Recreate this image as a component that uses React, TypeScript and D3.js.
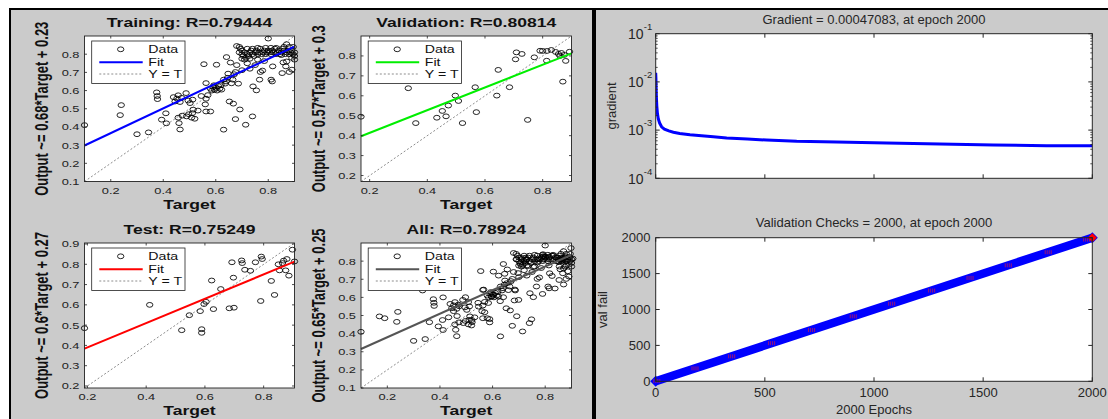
import React from 'react';
import * as d3 from 'd3';

// ---------- regression data: [target, output] ----------
const trainingPoints: [number, number][] = [
  [0.1, 0.41], [0.236, 0.465], [0.24, 0.52], [0.3, 0.36], [0.344, 0.37], [0.375, 0.59], [0.377, 0.57], [0.378, 0.553],
  [0.394, 0.44], [0.41, 0.475], [0.412, 0.42], [0.439, 0.564], [0.445, 0.54], [0.452, 0.556], [0.457, 0.574], [0.464, 0.537],
  [0.47, 0.56], [0.487, 0.586], [0.495, 0.545], [0.502, 0.531], [0.512, 0.55], [0.457, 0.451], [0.46, 0.421], [0.464, 0.386],
  [0.472, 0.462], [0.489, 0.458], [0.497, 0.47], [0.508, 0.451], [0.511, 0.476], [0.514, 0.495], [0.52, 0.445], [0.532, 0.49],
  [0.555, 0.745], [0.563, 0.641], [0.563, 0.555], [0.56, 0.524], [0.563, 0.485], [0.58, 0.485], [0.57, 0.575], [0.545, 0.57],
  [0.58, 0.61], [0.585, 0.6], [0.59, 0.62], [0.595, 0.605], [0.6, 0.615], [0.605, 0.6], [0.61, 0.625], [0.615, 0.61],
  [0.62, 0.63], [0.622, 0.605], [0.593, 0.629], [0.603, 0.742], [0.636, 0.638], [0.63, 0.66], [0.64, 0.65], [0.645, 0.67],
  [0.647, 0.693], [0.656, 0.754], [0.641, 0.784], [0.675, 0.702], [0.66, 0.64], [0.665, 0.66], [0.67, 0.69], [0.686, 0.638],
  [0.652, 0.54], [0.667, 0.528], [0.692, 0.496], [0.63, 0.385], [0.675, 0.443], [0.714, 0.412], [0.74, 0.458], [0.742, 0.623],
  [0.755, 0.601], [0.767, 0.66], [0.77, 0.702], [0.778, 0.71], [0.811, 0.66], [0.815, 0.65], [0.8, 0.886], [0.853, 0.696],
  [0.88, 0.702], [0.89, 0.715], [0.867, 0.733], [0.857, 0.755], [0.817, 0.733], [0.785, 0.762], [0.87, 0.76], [0.68, 0.74],
  [0.7, 0.712], [0.73, 0.72], [0.72, 0.75], [0.75, 0.74], [0.76, 0.77],
  [0.68, 0.845], [0.69, 0.84], [0.695, 0.83], [0.7, 0.82], [0.7, 0.8], [0.705, 0.79], [0.71, 0.81], [0.715, 0.78],
  [0.72, 0.83], [0.72, 0.8], [0.725, 0.79], [0.73, 0.81], [0.735, 0.82], [0.74, 0.8], [0.745, 0.79], [0.75, 0.81],
  [0.755, 0.82], [0.76, 0.8], [0.765, 0.81], [0.77, 0.83], [0.775, 0.8], [0.78, 0.81], [0.785, 0.82], [0.79, 0.8],
  [0.795, 0.81], [0.8, 0.82], [0.805, 0.81], [0.81, 0.8], [0.815, 0.82], [0.82, 0.81], [0.825, 0.83], [0.83, 0.8],
  [0.835, 0.81], [0.84, 0.82], [0.845, 0.8], [0.85, 0.81], [0.855, 0.83], [0.86, 0.82], [0.865, 0.8], [0.87, 0.81],
  [0.875, 0.82], [0.88, 0.8], [0.885, 0.81], [0.89, 0.82], [0.895, 0.8], [0.9, 0.81], [0.9, 0.79], [0.88, 0.84],
  [0.87, 0.855], [0.86, 0.84], [0.85, 0.795], [0.83, 0.835], [0.81, 0.835], [0.79, 0.835], [0.76, 0.835], [0.74, 0.83],
  [0.73, 0.775], [0.71, 0.77], [0.69, 0.81], [0.7, 0.775], [0.89, 0.78], [0.9, 0.77], [0.895, 0.84],
];

const validationPoints: [number, number][] = [
  [0.17, 0.495], [0.334, 0.638], [0.36, 0.463], [0.433, 0.49], [0.465, 0.497], [0.452, 0.524], [0.473, 0.551], [0.497, 0.601],
  [0.508, 0.574], [0.522, 0.463], [0.566, 0.643], [0.57, 0.518], [0.646, 0.73], [0.641, 0.601], [0.685, 0.643], [0.706, 0.783],
  [0.709, 0.818], [0.728, 0.81], [0.748, 0.479], [0.771, 0.793], [0.791, 0.826], [0.814, 0.776], [0.815, 0.825], [0.83, 0.83],
  [0.845, 0.82], [0.855, 0.81], [0.865, 0.815], [0.875, 0.805], [0.893, 0.821], [0.87, 0.671], [0.88, 0.775], [0.8, 0.825],
  [0.86, 0.8],
];

const testPoints: [number, number][] = [
  [0.19, 0.485], [0.412, 0.6], [0.521, 0.475], [0.547, 0.549], [0.584, 0.569], [0.589, 0.48], [0.589, 0.462], [0.597, 0.604],
  [0.604, 0.615], [0.629, 0.579], [0.623, 0.72], [0.654, 0.678], [0.683, 0.583], [0.699, 0.586], [0.692, 0.81], [0.697, 0.734],
  [0.725, 0.819], [0.727, 0.806], [0.736, 0.773], [0.755, 0.768], [0.772, 0.81], [0.792, 0.838], [0.795, 0.826], [0.79, 0.619],
  [0.826, 0.718], [0.837, 0.649], [0.854, 0.77], [0.864, 0.806], [0.868, 0.818], [0.875, 0.77], [0.879, 0.826], [0.886, 0.744],
  [0.898, 0.872], [0.905, 0.814], [0.85, 0.8],
];

const allPoints: [number, number][] = [...trainingPoints, ...validationPoints, ...testPoints];

const regressionTitles = ['Training: R=0.79444', 'Validation: R=0.80814', 'Test: R=0.75249', 'All: R=0.78924'];
const fitLabels = [
  'Output ~= 0.68*Target + 0.23',
  'Output ~= 0.57*Target + 0.3',
  'Output ~= 0.6*Target + 0.27',
  'Output ~= 0.65*Target + 0.25',
];
const fitSlopes = [0.68, 0.57, 0.6, 0.65];
const fitIntercepts = [0.23, 0.3, 0.27, 0.25];
const axisLimits: [number, number][] = [[0.1, 0.9], [0.17, 0.9], [0.19, 0.905], [0.1, 0.9]];
const targetTicks = [0.2, 0.4, 0.6, 0.8];
const outputTicks = [
  [0.1, 0.2, 0.3, 0.4, 0.5, 0.6, 0.7, 0.8],
  [0.2, 0.3, 0.4, 0.5, 0.6, 0.7, 0.8],
  [0.2, 0.3, 0.4, 0.5, 0.6, 0.7, 0.8, 0.9],
  [0.1, 0.2, 0.3, 0.4, 0.5, 0.6, 0.7, 0.8],
];
const legendLabels = ['Data', 'Fit', 'Y = T'];

// ---------- training state ----------
const gradEpochs = [0, 1, 2, 3, 5, 8, 12, 18, 27, 40, 60, 81, 110, 157, 210, 264, 325, 420, 508, 646, 829, 1058, 1302, 1547, 1791, 2000];
const gradValues = [0.0155, 0.012, 0.0075, 0.005, 0.0032, 0.0022, 0.0017, 0.0014, 0.00117, 0.00105, 0.00096, 0.0009, 0.00085,
  0.0008, 0.00076, 0.00073, 0.000685, 0.00065, 0.000623, 0.000585, 0.000566, 0.00054, 0.000515, 0.000491, 0.000475, 0.00047083];
const gradTicks = [1e-4, 1e-3, 1e-2, 1e-1];
const gradTickExps = ['-4', '-3', '-2', '-1'];
const valFailEpochs = [0, 2000];
const valFailValues = [0, 2000];
const valFailMarkEpochs = [5, 180, 348, 531, 714, 905, 1081, 1264, 1440, 1615, 1798, 1974];
const epochTicks = [0, 500, 1000, 1500, 2000];
const valFailTicks = [0, 500, 1000, 1500, 2000];
const gradTitle = 'Gradient = 0.00047083, at epoch 2000';
const valTitle = 'Validation Checks = 2000, at epoch 2000';

// ---------- layout ----------
const W = 1108;
const H = 419;
const FONT = "'Liberation Sans', Arial, Helvetica, sans-serif";
const SX = 1.35; // horizontal stretch of the regression panel
const BG = '#cbcbcb';
const regBoxes = [
  [84.5, 36, 294.5, 181.5],
  [361, 36, 571.5, 181.5],
  [84.5, 243, 294.5, 388],
  [361, 243, 571.5, 388],
];
const fitColors = ['#0000ff', '#00ee00', '#ff0000', '#555555'];
const gradBox = [655.7, 33.7, 1092.3, 178.3];
const valBox = [655.7, 237.7, 1092.3, 381.3];

const st = (x: number, y: number, rot = false) =>
  `translate(${x},${y}) scale(${SX},1)` + (rot ? ' rotate(-90)' : '');

function Regression({ i, points }: { i: number; points: [number, number][] }) {
  const [x0, y0, x1, y1] = regBoxes[i];
  const [d0, d1] = axisLimits[i];
  const x = d3.scaleLinear().domain([d0, d1]).range([x0, x1]);
  const y = d3.scaleLinear().domain([d0, d1]).range([y1, y0]);
  const m = fitSlopes[i];
  const b = fitIntercepts[i];
  const color = fitColors[i];
  const tk = 2.5;
  const lx = x0 + 7.2;
  const ly = y0 + 5;
  const rows = [y0 + 13.3, y0 + 26.3, y0 + 38];
  return (
    <g>
      <rect x={x0} y={y0} width={x1 - x0} height={y1 - y0} fill="#fff" />
      <line x1={x(d0)} y1={y(d0)} x2={x(d1)} y2={y(d1)} stroke="#808080" strokeWidth={0.9} strokeDasharray="2,2" />
      {points.map((p, k) => (
        <ellipse key={k} cx={x(p[0])} cy={y(p[1])} rx={3.2} ry={2.4} fill="none" stroke="#000" strokeWidth={0.85} />
      ))}
      <line x1={x(d0)} y1={y(m * d0 + b)} x2={x(d1)} y2={y(m * d1 + b)} stroke={color} strokeWidth={2} />
      {/* ticks on all four sides */}
      {targetTicks.map((t) => (
        <g key={'xt' + t}>
          <line x1={x(t)} x2={x(t)} y1={y1} y2={y1 - tk} stroke="#222" strokeWidth={0.8} />
          <line x1={x(t)} x2={x(t)} y1={y0} y2={y0 + tk} stroke="#222" strokeWidth={0.8} />
          <text transform={st(x(t), y1 + 12)} textAnchor="middle" fontSize={9.5} fill="#222" fontFamily={FONT}>{t}</text>
        </g>
      ))}
      {outputTicks[i].map((t) => (
        <g key={'yt' + t}>
          <line x1={x0} x2={x0 + tk} y1={y(t)} y2={y(t)} stroke="#222" strokeWidth={0.8} />
          <line x1={x1} x2={x1 - tk} y1={y(t)} y2={y(t)} stroke="#222" strokeWidth={0.8} />
          <text transform={st(x0 - 5, y(t) + 3.4)} textAnchor="end" fontSize={9.5} fill="#222" fontFamily={FONT}>{t}</text>
        </g>
      ))}
      <rect x={x0} y={y0} width={x1 - x0} height={y1 - y0} fill="none" stroke="#222" strokeWidth={0.9} />
      {/* legend */}
      <rect x={lx} y={ly} width={93.3} height={42.5} fill="#fff" stroke="#222" strokeWidth={0.8} />
      <ellipse cx={x0 + 36.2} cy={rows[0]} rx={3.2} ry={2.4} fill="none" stroke="#000" strokeWidth={0.85} />
      <line x1={x0 + 14.8} x2={x0 + 58.2} y1={rows[1]} y2={rows[1]} stroke={color} strokeWidth={2} />
      <line x1={x0 + 14.8} x2={x0 + 58.2} y1={rows[2]} y2={rows[2]} stroke="#808080" strokeWidth={0.9} strokeDasharray="2,2" />
      {legendLabels.map((l, k) => (
        <text key={l} transform={st(x0 + 63.8, rows[k] + 3.6)} fontSize={10.5} fill="#111" fontFamily={FONT}>{l}</text>
      ))}
      {/* labels */}
      <text transform={st((x0 + x1) / 2, y0 - 9.3)} textAnchor="middle" fontSize={13} fontWeight="bold" fill="#111" fontFamily={FONT}>
        {regressionTitles[i]}
      </text>
      <text transform={st((x0 + x1) / 2, y1 + 27)} textAnchor="middle" fontSize={13} fontWeight="bold" fill="#111" fontFamily={FONT}>
        Target
      </text>
      <text transform={st(x0 - 36.5, (y0 + y1) / 2, true)} textAnchor="middle" fontSize={13} fontWeight="bold" fill="#111" fontFamily={FONT}>
        {fitLabels[i]}
      </text>
    </g>
  );
}

function GradientPlot() {
  const [x0, y0, x1, y1] = gradBox;
  const x = d3.scaleLinear().domain([0, 2000]).range([x0, x1]);
  const y = d3.scaleLog().domain([1e-4, 1e-1]).range([y1, y0]);
  const line = d3.line<number>().x((_, k) => x(gradEpochs[k])).y((v) => y(v));
  const minor: number[] = [];
  [1e-4, 1e-3, 1e-2].forEach((dec) => { for (let k = 2; k <= 9; k++) minor.push(dec * k); });
  return (
    <g>
      <rect x={x0} y={y0} width={x1 - x0} height={y1 - y0} fill="#fff" />
      <clipPath id="gclip"><rect x={x0} y={y0} width={x1 - x0} height={y1 - y0} /></clipPath>
      <path d={line(gradValues) || ''} fill="none" stroke="#0000ff" strokeWidth={3} clipPath="url(#gclip)" />
      {epochTicks.map((t) => (
        <g key={t}>
          <line x1={x(t)} x2={x(t)} y1={y1} y2={y1 - 4} stroke="#262626" />
          <line x1={x(t)} x2={x(t)} y1={y0} y2={y0 + 4} stroke="#262626" />
        </g>
      ))}
      {minor.map((t) => (
        <g key={t}>
          <line x1={x0} x2={x0 + 2} y1={y(t)} y2={y(t)} stroke="#262626" strokeWidth={0.8} />
          <line x1={x1} x2={x1 - 2} y1={y(t)} y2={y(t)} stroke="#262626" strokeWidth={0.8} />
        </g>
      ))}
      {gradTicks.map((t, k) => (
        <g key={t}>
          <line x1={x0} x2={x0 + 4} y1={y(t)} y2={y(t)} stroke="#262626" />
          <line x1={x1} x2={x1 - 4} y1={y(t)} y2={y(t)} stroke="#262626" />
          <text x={643.5} y={y(t) + 5.2} textAnchor="end" fontSize={14} fill="#262626" fontFamily={FONT}>10</text>
          <text x={643.8} y={y(t) - 3.8} fontSize={9.5} fill="#262626" fontFamily={FONT}>{gradTickExps[k]}</text>
        </g>
      ))}
      <rect x={x0} y={y0} width={x1 - x0} height={y1 - y0} fill="none" stroke="#262626" strokeWidth={1} />
      <text x={(x0 + x1) / 2} y={24} textAnchor="middle" fontSize={13} fill="#262626" fontFamily={FONT}>{gradTitle}</text>
      <text transform={`translate(616,${(y0 + y1) / 2}) rotate(-90)`} textAnchor="middle" fontSize={13} fill="#262626" fontFamily={FONT}>
        gradient
      </text>
    </g>
  );
}

function ValFailPlot() {
  const [x0, y0, x1, y1] = valBox;
  const x = d3.scaleLinear().domain([0, 2000]).range([x0, x1]);
  const y = d3.scaleLinear().domain([0, 2000]).range([y1, y0]);
  const line = d3.line<number>().x((_, k) => x(valFailEpochs[k])).y((v) => y(v));
  const diamond = (cx: number, cy: number, r: number) => `M${cx},${cy - r}L${cx + r},${cy}L${cx},${cy + r}L${cx - r},${cy}Z`;
  const last = valFailEpochs.length - 1;
  return (
    <g>
      <rect x={x0} y={y0} width={x1 - x0} height={y1 - y0} fill="#fff" />
      <path d={line(valFailValues) || ''} fill="none" stroke="#0000ff" strokeWidth={8.5} />
      {valFailEpochs.map((e, k) => (
        <path key={k} d={diamond(x(e), y(valFailValues[k]), 5.5)} fill="#0000ff" />
      ))}
      {valFailMarkEpochs.map((e) => (
        <g key={e}>
          {[-3, -1, 1, 3].map((o) => (
            <line key={o} x1={x(e) + o} x2={x(e) + o} y1={y(e) - 2} y2={y(e) + 2} stroke="#ff2020" strokeWidth={0.6} />
          ))}
        </g>
      ))}
      <path d={diamond(x(valFailEpochs[last]), y(valFailValues[last]), 4.5)} fill="#ff0000" />
      {epochTicks.map((t) => (
        <g key={t}>
          <line x1={x(t)} x2={x(t)} y1={y1} y2={y1 - 4} stroke="#262626" />
          <line x1={x(t)} x2={x(t)} y1={y0} y2={y0 + 4} stroke="#262626" />
          <text x={x(t)} y={396.5} textAnchor="middle" fontSize={13} fill="#262626" fontFamily={FONT}>{t}</text>
        </g>
      ))}
      {valFailTicks.map((t) => (
        <g key={t}>
          <line x1={x0} x2={x0 + 4} y1={y(t)} y2={y(t)} stroke="#262626" />
          <line x1={x1} x2={x1 - 4} y1={y(t)} y2={y(t)} stroke="#262626" />
          <text x={650.5} y={y(t) + 4.6} textAnchor="end" fontSize={13} fill="#262626" fontFamily={FONT}>{t}</text>
        </g>
      ))}
      <rect x={x0} y={y0} width={x1 - x0} height={y1 - y0} fill="none" stroke="#262626" strokeWidth={1} />
      <text x={(x0 + x1) / 2} y={227.3} textAnchor="middle" fontSize={13} fill="#262626" fontFamily={FONT}>{valTitle}</text>
      <text x={(x0 + x1) / 2} y={414} textAnchor="middle" fontSize={13} fill="#262626" fontFamily={FONT}>2000 Epochs</text>
      <text transform={`translate(606.5,${(y0 + y1) / 2}) rotate(-90)`} textAnchor="middle" fontSize={13} fill="#262626" fontFamily={FONT}>
        val fail
      </text>
    </g>
  );
}

export default function App() {
  const sets = [trainingPoints, validationPoints, testPoints, allPoints];
  return (
    <svg width={W} height={H} style={{ position: 'absolute', left: 0, top: 0, display: 'block' }}>
      <rect x={0} y={0} width={W} height={H} fill="#fff" />
      <rect x={9} y={8} width={W - 9} height={H - 8} fill={BG} />
      <rect x={9} y={8} width={W - 9} height={2} fill="#000" />
      <rect x={9} y={8} width={2} height={H - 8} fill="#000" />
      <rect x={592} y={8} width={4} height={H - 8} fill="#000" />
      {sets.map((s, i) => (
        <Regression key={i} i={i} points={s} />
      ))}
      <GradientPlot />
      <ValFailPlot />
    </svg>
  );
}
